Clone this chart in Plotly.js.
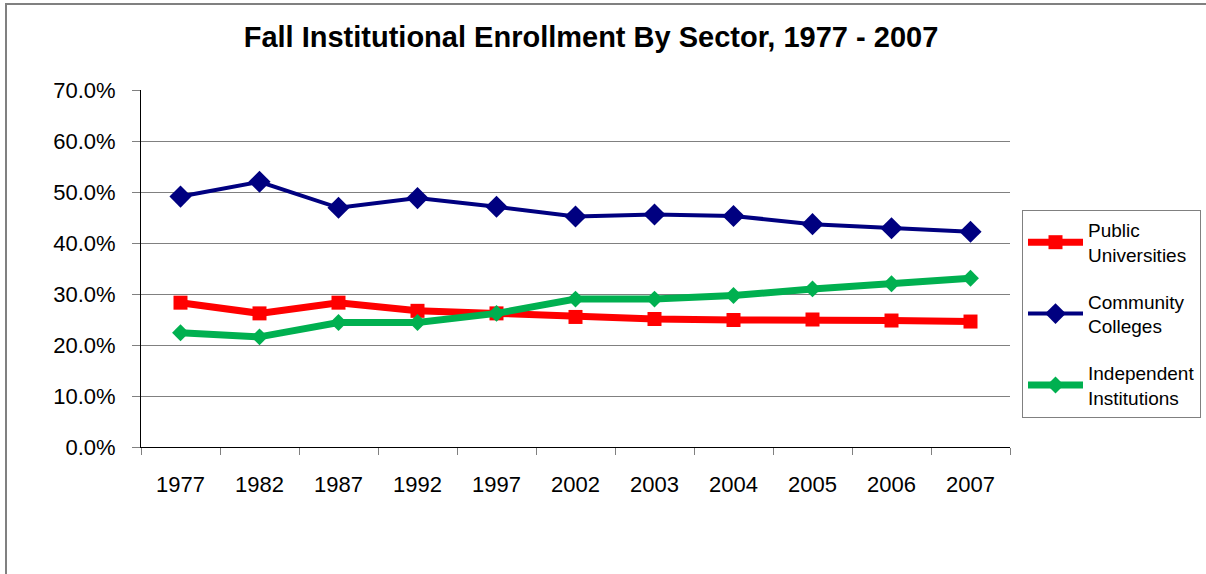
<!DOCTYPE html>
<html>
<head>
<meta charset="utf-8">
<script src="https://cdn.plot.ly/plotly-3.0.1.min.js"></script>
<style>html,body{margin:0;padding:0;background:#fff;}#chart{width:1206px;height:574px;}</style>
</head>
<body>
<div id="chart"></div>
<script>
const years = ['1977','1982','1987','1992','1997','2002','2003','2004','2005','2006','2007'];
const publicUniversities = [28.3, 26.2, 28.3, 26.7, 26.2, 25.5, 25.1, 24.9, 25.0, 24.8, 24.6];
const communityColleges = [49.1, 52.0, 46.9, 48.8, 47.1, 45.2, 45.6, 45.3, 43.7, 42.9, 42.2];
const independentInstitutions = [22.4, 21.6, 24.4, 24.4, 26.2, 29.0, 29.0, 29.7, 31.0, 32.0, 33.1];
const seriesNames = ['Public<br>Universities', 'Community<br>Colleges', 'Independent<br>Institutions'];

const font = 'Liberation Sans, Arial, sans-serif';
const traces = [
  {x: years, y: publicUniversities, name: seriesNames[0], type: 'scatter', mode: 'lines+markers',
   line: {color: '#FF0000', width: 7}, marker: {symbol: 'square', size: 14, color: '#FF0000'}, legendgroup: 'a'},
  {x: years, y: communityColleges, name: seriesNames[1], type: 'scatter', mode: 'lines+markers',
   line: {color: '#000080', width: 4}, marker: {symbol: 'diamond', size: 17, color: '#000080'}, legendgroup: 'b'},
  {x: years, y: independentInstitutions, name: seriesNames[2], type: 'scatter', mode: 'lines+markers',
   line: {color: '#00B050', width: 7}, marker: {symbol: 'diamond', size: 13, color: '#00B050'}, legendgroup: 'c'}
];

const L = 141, R = 2, W = 1206 - L - R, PW = 869;
const T = 90, B = 127, H = 574 - T - B;
const px = v => (v - L) / W;
const py = v => (574 - B - v) / H;

const layout = {
  width: 1206, height: 574,
  margin: {l: L, r: R, t: T, b: B},
  paper_bgcolor: '#fff', plot_bgcolor: '#fff',
  font: {family: font, color: '#000', size: 22},
  title: {text: '<b>Fall Institutional Enrollment By Sector, 1977 - 2007</b>',
          font: {family: font, size: 29, color: '#000'},
          x: 591/1206, xanchor: 'center', xref: 'container', y: 1 - 37/574, yanchor: 'middle', yref: 'container'},
  xaxis: {type: 'category', range: [-0.5, 10.5], domain: [0, PW / W], showline: true, linecolor: '#000', linewidth: 1,
          ticks: 'outside', tickson: 'boundaries', ticklen: 7, tickcolor: '#808080',
          ticklabelstandoff: 18, automargin: false,
          showgrid: false, tickfont: {size: 22, family: font}, zeroline: false, fixedrange: true},
  yaxis: {range: [0, 70], dtick: 10, tickformat: '.1f', ticksuffix: '%',
          showline: true, linecolor: '#000', linewidth: 1,
          ticks: 'outside', ticklen: 8, tickcolor: '#808080',
          ticklabelstandoff: 12, automargin: false,
          showgrid: true, gridcolor: '#808080', gridwidth: 1, zeroline: false,
          tickfont: {size: 22, family: font}, fixedrange: true},
  legend: {x: px(1022), xanchor: 'left', y: py(210), yanchor: 'top',
           bordercolor: '#808080', borderwidth: 1, bgcolor: '#fff',
           font: {size: 19, family: font, color: '#000'},
           itemwidth: 55,
           traceorder: 'grouped', tracegroupgap: 19},
  showlegend: true,
  shapes: [
    {type: 'rect', xref: 'paper', yref: 'paper', x0: px(6), x1: px(1220),
     y0: py(590), y1: py(4), line: {color: '#808080', width: 2}, layer: 'below'}
  ]
};

Plotly.newPlot('chart', traces, layout, {displayModeBar: false, staticPlot: true});
</script>
</body>
</html>
